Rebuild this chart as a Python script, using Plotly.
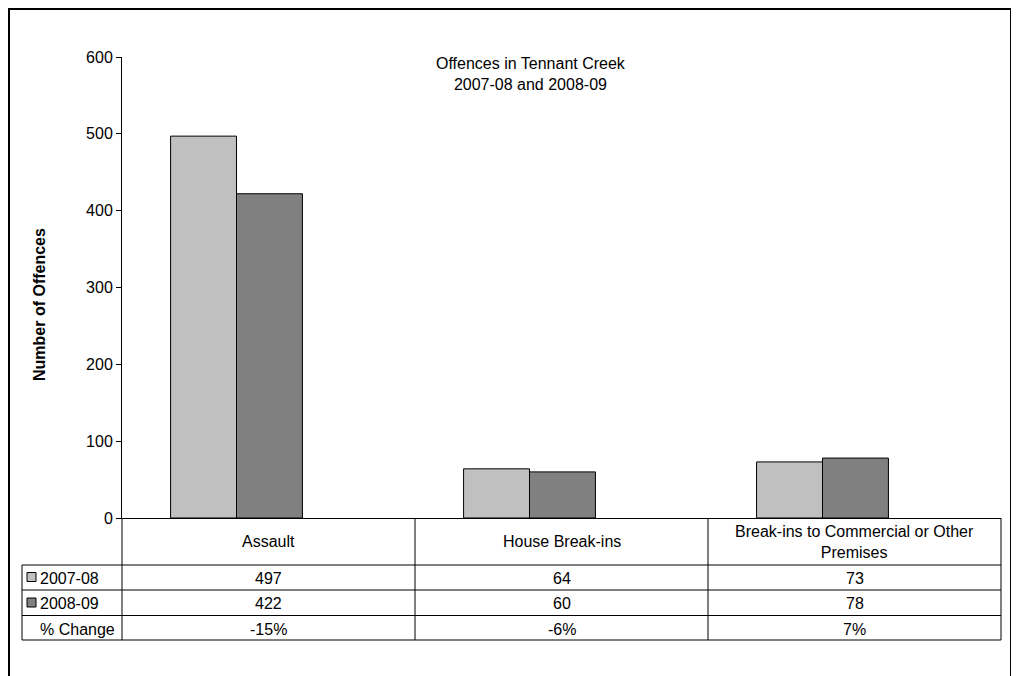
import plotly.graph_objects as go

categories = ['Assault', 'House Break-ins', 'Break-ins to Commercial or Other<br>Premises']
series_names = ['2007-08', '2008-09']
offences_0708 = [497, 64, 73]
offences_0809 = [422, 60, 78]
pct_change = ['-15%', '-6%', '7%']
y_ticks = [0, 100, 200, 300, 400, 500, 600]

colors = ['#C0C0C0', '#808080']
FONT = 'Liberation Sans, Arial, sans-serif'

# page body adds an 8px margin, so the figure is shrunk by that much
OFF = 8
W, H = 1019 - OFF, 676 - OFF
# plot area in screen pixels: x 122..1001, y 57..518
L, R, T, B = 122, 1001, 57, 518
# bars sit a bit left of the table columns in the original
SHIFT = 32 / 293


def px(x):
    return (x - L) / (R - L)


def py(y):
    return (B - y) / (B - T)


fig = go.Figure()
for name, vals, col in zip(series_names, [offences_0708, offences_0809], colors):
    fig.add_trace(go.Bar(x=categories, y=vals, name=name,
                         marker=dict(color=col, line=dict(color='black', width=1))))

shapes = []
line = dict(color='black', width=1)
# horizontal table lines
for y in [565, 590, 615.5, 640]:
    shapes.append(dict(type='line', xref='paper', yref='paper', x0=px(22), x1=1,
                       y0=py(y), y1=py(y), line=line))
# vertical table lines
shapes.append(dict(type='line', xref='paper', yref='paper', x0=px(22), x1=px(22),
                   y0=py(565), y1=py(640), line=line))
for i in range(4):
    shapes.append(dict(type='line', xref='paper', yref='paper', x0=i / 3, x1=i / 3,
                       y0=py(518), y1=py(640), line=line))
# legend keys in the table
for i, col in enumerate(colors):
    yc = 577 + 25.5 * i
    shapes.append(dict(type='rect', xref='paper', yref='paper',
                       x0=px(27), x1=px(36), y0=py(yc + 4.5), y1=py(yc - 4.5),
                       fillcolor=col, line=dict(color='black', width=1)))
# outer frame
shapes.append(dict(type='rect', xref='paper', yref='paper',
                   x0=px(OFF + 1), x1=px(1011), y0=py(690), y1=py(OFF + 1),
                   line=dict(color='black', width=2)))

annotations = []
tf = dict(family=FONT, size=16, color='black')
for i, cat in enumerate(categories):
    xc = (i + 0.5) / len(categories)
    annotations.append(dict(x=xc, xref='paper', y=py(541.5), yref='paper', text=cat,
                            showarrow=False, font=tf, xanchor='center', yanchor='middle'))
    for j, row in enumerate([offences_0708, offences_0809, pct_change]):
        annotations.append(dict(x=xc, xref='paper', y=py(578 + 25.5 * j), yref='paper',
                                text=str(row[i]), showarrow=False, font=tf,
                                xanchor='center', yanchor='middle'))
for j, lab in enumerate(series_names + ['% Change']):
    annotations.append(dict(x=px(38), xref='paper', y=py(578 + 25.5 * j), yref='paper',
                            text=lab, showarrow=False, font=tf, xanchor='left', yanchor='middle'))
annotations.append(dict(x=px(531), xref='paper', y=py(74), yref='paper',
                        text='Offences in Tennant Creek<br>2007-08 and 2008-09',
                        showarrow=False, font=tf, xanchor='center', yanchor='middle'))
annotations.append(dict(x=px(39), xref='paper', y=py(305), yref='paper',
                        text='<b>Number of Offences</b>', textangle=-90,
                        showarrow=False, font=tf, xanchor='center'))

fig.update_layout(
    width=W, height=H,
    margin=dict(l=L - OFF, r=1019 - R, t=T - OFF, b=676 - B, pad=0),
    paper_bgcolor='white', plot_bgcolor='white',
    barmode='group', bargap=0.55, bargroupgap=0,
    showlegend=False,
    font=dict(family=FONT, size=16, color='black'),
    xaxis=dict(showticklabels=False, ticks='', showline=True, linecolor='black',
               linewidth=1, showgrid=False, range=[-0.5 + SHIFT, 2.5 + SHIFT]),
    yaxis=dict(range=[0, 600], tickvals=y_ticks, ticks='outside', ticklen=5,
               tickcolor='black', showline=True, linecolor='black', linewidth=1,
               showgrid=False, zeroline=False, tickfont=tf),
    shapes=shapes, annotations=annotations,
)

fig.write_html('out.html')
